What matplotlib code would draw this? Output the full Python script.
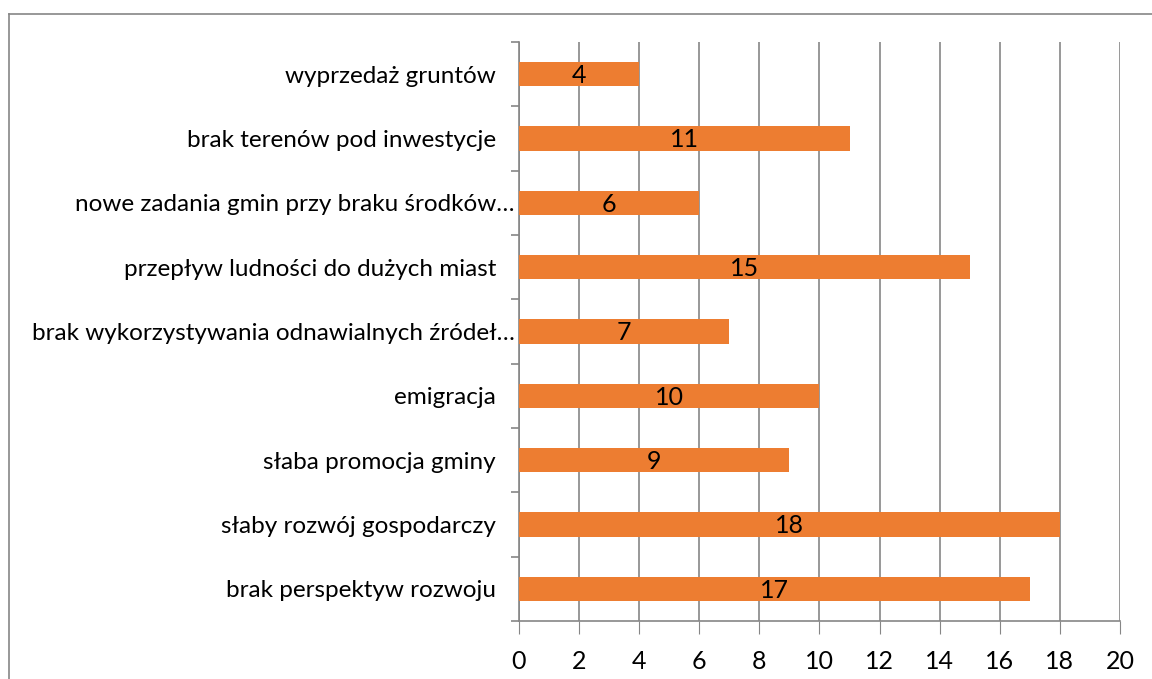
import numpy as np
import matplotlib.pyplot as plt
from matplotlib.lines import Line2D

# --- Data (top to bottom as shown) ---
categories = [
    'wyprzedaż gruntów   ',
    'brak terenów pod inwestycje   ',
    'nowe zadania gmin przy braku środków…',
    'przepływ ludności do dużych miast   ',
    'brak wykorzystywania odnawialnych źródeł…',
    'emigracja   ',
    'słaba promocja gminy   ',
    'słaby rozwój gospodarczy   ',
    'brak perspektyw rozwoju   ',
]
values = [4, 11, 6, 15, 7, 10, 9, 18, 17]
xticks = [0, 2, 4, 6, 8, 10, 12, 14, 16, 18, 20]

BAR_COLOR = '#ED7D31'
GRID_COLOR = '#868686'

plt.rcParams['font.family'] = ['Lato', 'DejaVu Sans']

fig = plt.figure(figsize=(11.52, 6.79), dpi=100)
ax = fig.add_axes([0.4505, 0.0854, 0.5217, 0.8527])

y = np.arange(len(categories))
bars = ax.barh(y, values, height=0.38, color=BAR_COLOR, zorder=3)

# value labels in the middle of each bar
for yi, v in zip(y, values):
    ax.text(v / 2, yi + 0.02, str(v), ha='center', va='center', fontsize=18, color='black', zorder=4)

ax.set_xlim(0, 20)
ax.set_ylim(len(categories) - 0.5, -0.5)
ax.set_xticks(xticks)
ax.tick_params(axis='x', length=9, color=GRID_COLOR, labelsize=18, pad=12)
ax.grid(axis='x', color=GRID_COLOR, linewidth=1.2, zorder=0)

# category labels, tick marks between categories
ax.set_yticks(y)
ax.set_yticklabels(categories, fontsize=17.5)
ax.tick_params(axis='y', length=0, pad=3)
ax.set_yticks(np.arange(-0.5, len(categories)), minor=True)
ax.tick_params(axis='y', which='minor', length=6, color=GRID_COLOR, width=1.2)

for side in ['top', 'right']:
    ax.spines[side].set_visible(False)
for side in ['left', 'bottom']:
    ax.spines[side].set_color(GRID_COLOR)
    ax.spines[side].set_linewidth(1.2)

# outer chart frame (top and left edges)
fig.add_artist(Line2D([9 / 1152, 9 / 1152], [0, 1 - 14 / 679], transform=fig.transFigure,
                      color=GRID_COLOR, linewidth=1.2))
fig.add_artist(Line2D([9 / 1152, 1], [1 - 14 / 679, 1 - 14 / 679], transform=fig.transFigure,
                      color=GRID_COLOR, linewidth=1.2))

fig.savefig('out.png', dpi=100)
